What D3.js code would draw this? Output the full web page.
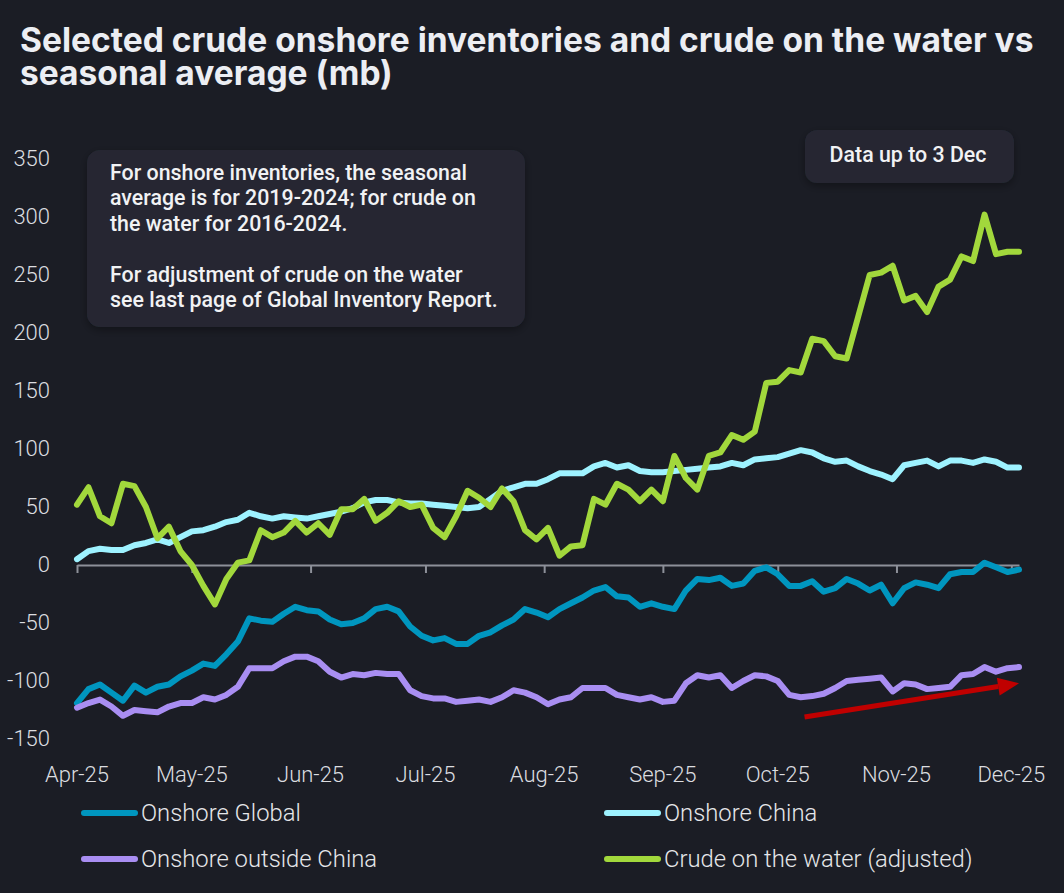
<!DOCTYPE html>
<html>
<head>
<meta charset="utf-8">
<script src="https://cdn.jsdelivr.net/npm/d3@7"></script>
<style>
html, body { margin: 0; padding: 0; background: #1b1d25; }
svg { display: block; }
</style>
</head>
<body>
<svg class="chart"></svg>
<script>
// sample dates: every 3rd day, 1 Apr to 3 Dec 2025
var dates = d3.timeDay.range(new Date(2025, 3, 1), new Date(2025, 11, 4), 3);

var onshoreGlobal = [
  -119,-107,-103,-110,-117,-104,-110,-105,-103,-96,
  -91,-85,-87,-77,-66,-46,-48,-49,-42,-36,
  -39,-40,-47,-51,-50,-46,-38,-36,-40,-53,
  -61,-65,-63,-68,-68,-61,-58,-52,-47,-38,
  -41,-45,-38,-33,-28,-22,-19,-27,-28,-36,
  -33,-36,-38,-22,-12,-13,-11,-18,-16,-5,
  -2,-8,-18,-18,-14,-23,-20,-12,-16,-22,
  -17,-33,-20,-15,-17,-20,-8,-6,-6,2,
  -2,-6,-4
];
var onshoreChina = [
  5,12,14,13,13,17,19,22,19,24,
  29,30,33,37,39,45,42,40,42,41,
  40,42,44,46,49,54,56,56,54,53,
  53,52,51,50,49,50,57,64,67,70,
  70,74,79,79,79,85,88,84,86,81,
  80,80,81,82,83,84,85,88,86,91,
  92,93,96,99,97,92,89,90,85,81,
  78,74,86,88,90,85,90,90,88,91,
  89,84,84
];
var onshoreOutsideChina = [
  -123,-119,-116,-122,-130,-125,-126,-127,-122,-119,
  -119,-114,-116,-112,-105,-89,-89,-89,-83,-79,
  -79,-83,-92,-97,-94,-95,-93,-94,-94,-108,
  -113,-115,-115,-118,-117,-116,-118,-114,-108,-110,
  -114,-120,-116,-114,-106,-106,-106,-112,-114,-116,
  -114,-118,-117,-102,-95,-97,-95,-106,-100,-95,
  -96,-100,-112,-114,-113,-111,-106,-100,-99,-98,
  -97,-109,-102,-103,-107,-106,-105,-95,-94,-88,
  -92,-89,-88
];
var crudeOnWater = [
  52,67,42,36,70,68,50,23,33,12,
  0,-18,-34,-12,2,4,30,24,28,38,
  28,36,26,48,48,57,38,45,55,50,
  52,32,24,42,64,58,50,66,55,30,
  22,32,8,16,17,57,52,70,65,55,
  65,55,94,75,65,94,97,112,108,115,
  157,158,168,166,195,193,180,178,214,250,
  252,258,228,232,218,240,246,266,262,302,
  268,270,270
];

var seriesNames = ["Onshore Global", "Onshore China", "Onshore outside China", "Crude on the water (adjusted)"];
var yTicks = [-150, -100, -50, 0, 50, 100, 150, 200, 250, 300, 350];
var monthTicks = d3.timeMonth.range(new Date(2025, 3, 1), new Date(2025, 11, 2));
var trendArrow = [[new Date(2025, 9, 8), -131], [new Date(2025, 11, 3), -102]];

var noteLines = [
  "For onshore inventories, the seasonal",
  "average is for 2019-2024; for crude on",
  "the water for 2016-2024.",
  "",
  "For adjustment of crude on the water",
  "see last page of Global Inventory Report."
];

function show() {
  'use strict';
  var W = 1064, H = 893;
  var colors = ["#0096bf", "#9ef2ff", "#a98ef2", "#a2d83c"];
  var labelFont = "Roboto, 'Noto Sans', sans-serif";

  var svg = d3.select(".chart").attr("width", W).attr("height", H);
  var defs = svg.append("defs");

  svg.append("rect").attr("width", W).attr("height", H).attr("fill", "#1b1d25");

  var shadow = defs.append("filter").attr("id", "shadow")
      .attr("x", "-10%").attr("y", "-20%").attr("width", "120%").attr("height", "150%");
  shadow.append("feDropShadow").attr("dx", 0).attr("dy", 3)
      .attr("stdDeviation", 4).attr("flood-color", "#000").attr("flood-opacity", 0.35);

  defs.append("clipPath").attr("id", "pageClip")
      .append("rect").attr("x", 0).attr("y", 0).attr("width", 1047).attr("height", H);

  // title, fitted to the reference width
  var title = svg.append("text")
      .attr("fill", "#eceef3")
      .attr("font-family", "Inter, 'Noto Sans', sans-serif")
      .attr("font-weight", 700)
      .attr("font-size", 29);
  title.append("tspan").attr("x", 20).attr("y", 52)
      .text("Selected crude onshore inventories and crude on the water vs");
  title.append("tspan").attr("x", 20).attr("y", 85)
      .text("seasonal average (mb)");
  var firstLen = title.select("tspan").node().getComputedTextLength();
  title.attr("font-size", 29 * 1014 / firstLen);

  var x = d3.scaleTime()
      .domain([new Date(2025, 3, 1), new Date(2025, 11, 3)])
      .range([77, 1019]);
  var y = d3.scaleLinear().domain([-150, 350]).range([739, 159]);

  // y labels
  svg.append("g").selectAll("text")
      .data(yTicks).enter().append("text")
      .attr("x", 50)
      .attr("y", function(d) { return y(d); })
      .attr("dy", "0.3em")
      .attr("text-anchor", "end")
      .attr("fill", "#dcdde0")
      .attr("font-family", labelFont)
      .attr("font-weight", 300)
      .attr("font-size", 22)
      .text(function(d) { return d; });

  // zero axis with month ticks
  var axis = svg.append("g")
      .attr("transform", "translate(0," + y(0) + ")")
      .call(d3.axisBottom(x).tickValues(monthTicks).tickSize(8).tickSizeOuter(0).tickFormat(""));
  axis.select(".domain").attr("stroke", "#8d9099").attr("stroke-width", 2);
  axis.selectAll(".tick line").attr("stroke", "#8d9099").attr("stroke-width", 2);

  svg.append("g").attr("clip-path", "url(#pageClip)")
      .selectAll("text")
      .data(monthTicks).enter().append("text")
      .attr("x", function(d) { return x(d); })
      .attr("y", 782)
      .attr("text-anchor", "middle")
      .attr("fill", "#dcdde0")
      .attr("font-family", labelFont)
      .attr("font-weight", 300)
      .attr("font-size", 22)
      .text(d3.timeFormat("%b-%y"));

  // lines
  var allSeries = [onshoreGlobal, onshoreChina, onshoreOutsideChina, crudeOnWater];
  var line = d3.line()
      .x(function(d, i) { return x(dates[i]); })
      .y(function(d) { return y(d); });

  svg.append("g").selectAll("path")
      .data(allSeries).enter().append("path")
      .attr("d", line)
      .attr("fill", "none")
      .attr("stroke", function(d, i) { return colors[i]; })
      .attr("stroke-width", 6)
      .attr("stroke-linejoin", "round")
      .attr("stroke-linecap", "round");

  // red trend arrow
  var p0 = [x(trendArrow[0][0]), y(trendArrow[0][1])],
      p1 = [x(trendArrow[1][0]), y(trendArrow[1][1])];
  var ang = Math.atan2(p1[1] - p0[1], p1[0] - p0[0]);
  var headLen = 21, headHalf = 9;
  var base = [p1[0] - headLen * Math.cos(ang), p1[1] - headLen * Math.sin(ang)];
  svg.append("line")
      .attr("x1", p0[0]).attr("y1", p0[1])
      .attr("x2", base[0]).attr("y2", base[1])
      .attr("stroke", "#c00000").attr("stroke-width", 5);
  svg.append("path")
      .attr("d", "M" + p1.join(",") +
          "L" + [base[0] + headHalf * Math.sin(ang), base[1] - headHalf * Math.cos(ang)].join(",") +
          "L" + [base[0] - headHalf * Math.sin(ang), base[1] + headHalf * Math.cos(ang)].join(",") + "Z")
      .attr("fill", "#c00000");

  // note boxes
  svg.append("rect")
      .attr("x", 87).attr("y", 150).attr("width", 438).attr("height", 177)
      .attr("rx", 13).attr("fill", "#252833").attr("filter", "url(#shadow)");
  var notes = svg.append("g")
      .attr("fill", "#f1f2f4")
      .attr("font-family", labelFont)
      .attr("font-weight", 500)
      .attr("font-size", 18.5);
  notes.selectAll("text")
      .data(noteLines).enter().append("text")
      .attr("x", 110)
      .attr("y", function(d, i) { return 180 + i * 25.4; })
      .text(function(d) { return d; });
  var noteLen = notes.select("text").node().getComputedTextLength();
  var noteSize = 18.5 * 357 / noteLen;
  notes.attr("font-size", noteSize);

  svg.append("rect")
      .attr("x", 805).attr("y", 130).attr("width", 209).attr("height", 53)
      .attr("rx", 12).attr("fill", "#252833").attr("filter", "url(#shadow)");
  svg.append("text")
      .attr("x", 908).attr("y", 162)
      .attr("text-anchor", "middle")
      .attr("fill", "#f1f2f4")
      .attr("font-family", labelFont)
      .attr("font-weight", 500)
      .attr("font-size", noteSize)
      .text("Data up to 3 Dec");

  // legend
  var legend = svg.append("g").selectAll("g")
      .data(seriesNames).enter().append("g")
      .attr("transform", function(d, i) {
        return "translate(" + (i % 2 === 0 ? 82 : 605) + "," + (i < 2 ? 813 : 859) + ")";
      });
  legend.append("line")
      .attr("x1", 2).attr("x2", 53)
      .attr("stroke", function(d, i) { return colors[i]; })
      .attr("stroke-width", 6)
      .attr("stroke-linecap", "round");
  legend.append("text")
      .attr("x", 59)
      .attr("dy", "0.35em")
      .attr("fill", "#e6e7ea")
      .attr("font-family", labelFont)
      .attr("font-weight", 300)
      .attr("font-size", 23.8)
      .text(function(d) { return d; });
}

show();
</script>
</body>
</html>
